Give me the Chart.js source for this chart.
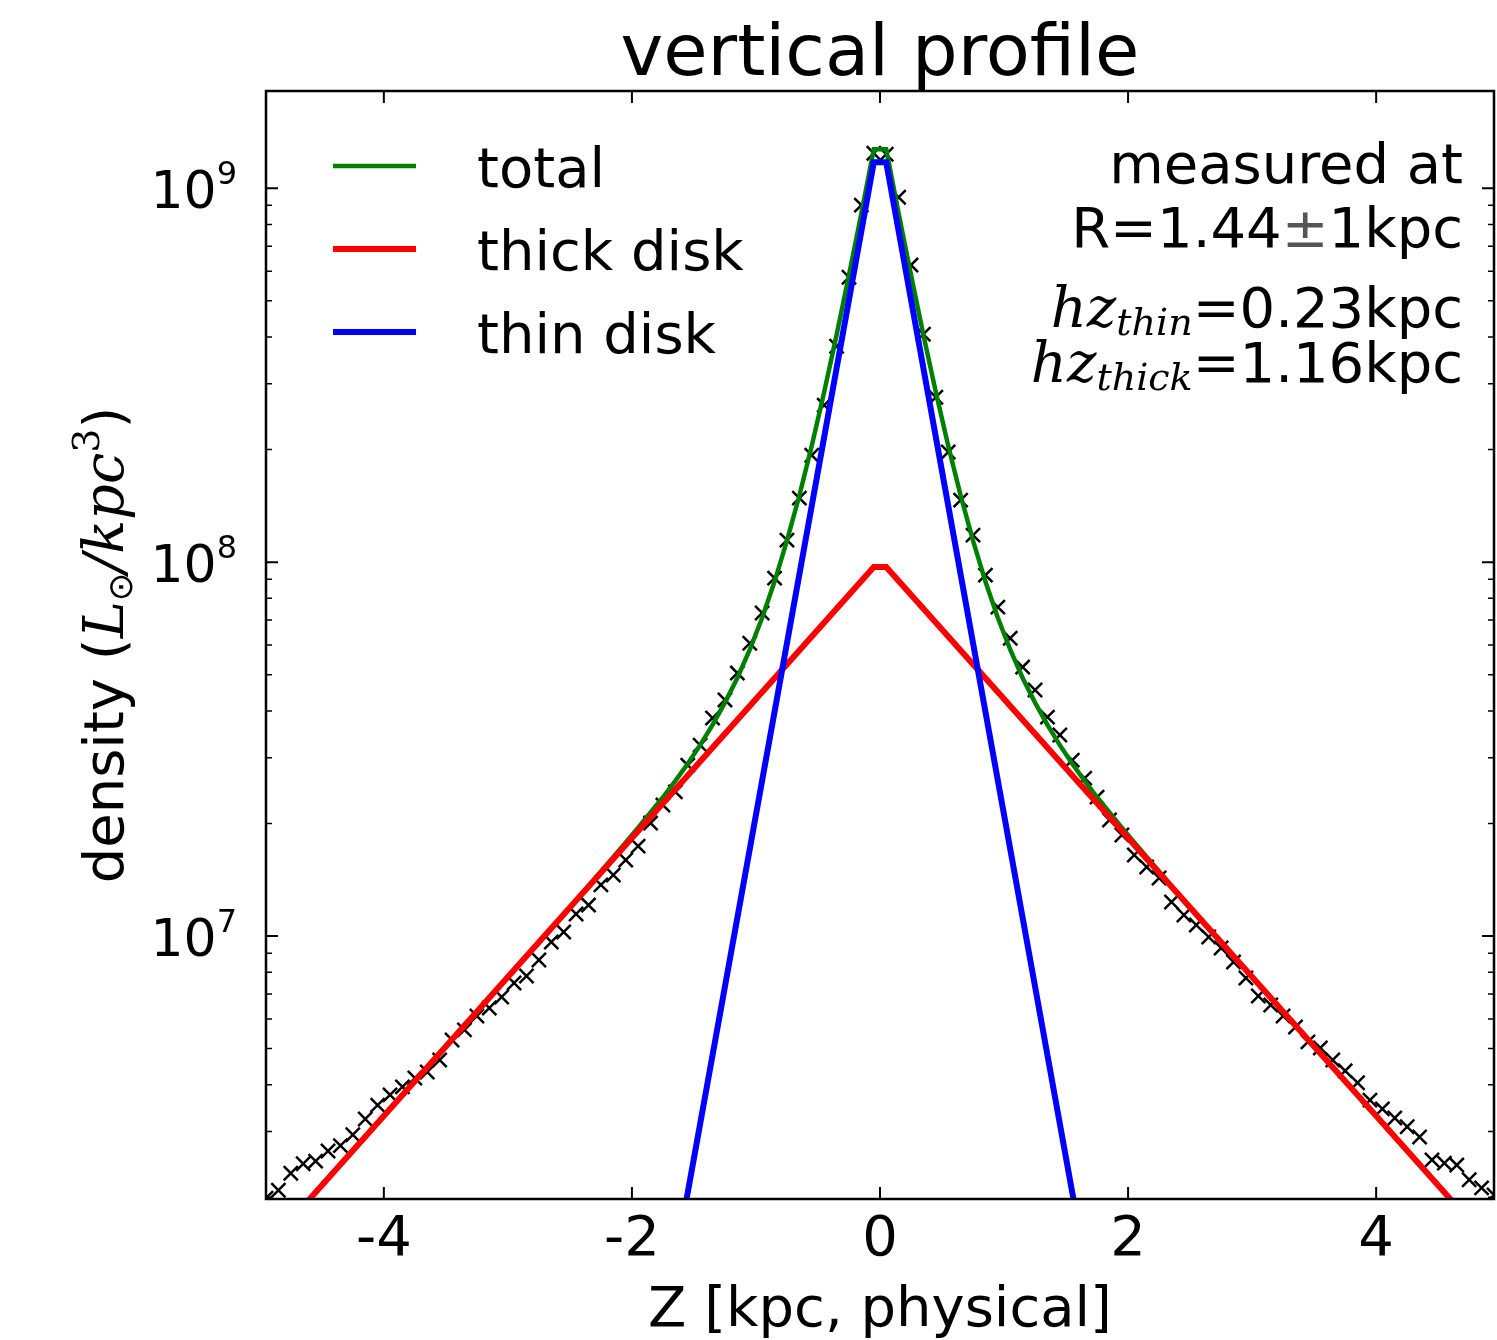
<!DOCTYPE html>
<html><head><meta charset="utf-8">
<script src="https://cdn.jsdelivr.net/npm/chart.js@4.4.1/dist/chart.umd.min.js"></script>
<style>html,body{margin:0;padding:0;background:#fff;overflow:hidden}canvas{display:block}</style>
</head><body>
<canvas id="c" width="1497" height="1340"></canvas>
<script>
// ---- data ----
const binZ = [-4.95,-4.85,-4.75,-4.65,-4.55,-4.45,-4.35,-4.25,-4.15,-4.05,
  -3.95,-3.85,-3.75,-3.65,-3.55,-3.45,-3.35,-3.25,-3.15,-3.05,
  -2.95,-2.85,-2.75,-2.65,-2.55,-2.45,-2.35,-2.25,-2.15,-2.05,
  -1.95,-1.85,-1.75,-1.65,-1.55,-1.45,-1.35,-1.25,-1.15,-1.05,
  -0.95,-0.85,-0.75,-0.65,-0.55,-0.45,-0.35,-0.25,-0.15,-0.05,
  0.05,0.15,0.25,0.35,0.45,0.55,0.65,0.75,0.85,0.95,
  1.05,1.15,1.25,1.35,1.45,1.55,1.65,1.75,1.85,1.95,
  2.05,2.15,2.25,2.35,2.45,2.55,2.65,2.75,2.85,2.95,
  3.05,3.15,3.25,3.35,3.45,3.55,3.65,3.75,3.85,3.95,
  4.05,4.15,4.25,4.35,4.45,4.55,4.65,4.75,4.85,4.95];
const measuredDensity = [1.99e6,2.09e6,2.32e6,2.46e6,2.50e6,2.66e6,2.75e6,2.94e6,3.24e6,3.53e6,
  3.76e6,3.95e6,4.17e6,4.33e6,4.66e6,5.27e6,5.61e6,6.11e6,6.42e6,6.87e6,
  7.49e6,7.82e6,8.63e6,9.64e6,1.025e7,1.145e7,1.21e7,1.37e7,1.456e7,1.597e7,
  1.74e7,2.005e7,2.24e7,2.43e7,2.865e7,3.24e7,3.83e7,4.28e7,5.05e7,6.07e7,
  7.31e7,9.06e7,1.145e8,1.483e8,1.932e8,2.63e8,3.78e8,5.78e8,9.01e8,1.24e9,
  1.233e9,9.46e8,6.23e8,4.07e8,2.76e8,1.97e8,1.465e8,1.181e8,9.23e7,7.58e7,
  6.26e7,5.24e7,4.55e7,3.85e7,3.45e7,2.955e7,2.645e7,2.353e7,2.043e7,1.863e7,
  1.647e7,1.53e7,1.43e7,1.233e7,1.138e7,1.07e7,9.94e6,9.29e6,8.52e6,7.72e6,
  6.91e6,6.54e6,6.11e6,5.71e6,5.21e6,5.02e6,4.66e6,4.36e6,4.05e6,3.64e6,
  3.45e6,3.26e6,3.09e6,2.90e6,2.52e6,2.47e6,2.44e6,2.23e6,2.12e6,2.03e6];

const totalZ = [-4.95,-3.95,-2.95,-2.45,-2.05,-1.95,-1.85,-1.75,-1.65,-1.55,-1.45,-1.35,-1.25,-1.15,-1.05,
  -0.95,-0.85,-0.75,-0.65,-0.55,-0.45,-0.35,-0.25,-0.15,-0.05,
  0.05,0.15,0.25,0.35,0.45,0.55,0.65,0.75,0.85,0.95,
  1.05,1.15,1.25,1.35,1.45,1.55,1.65,1.75,1.85,1.95,2.05,2.45,2.95,3.95,4.95];
const totalDensity = [1.465e6,3.445e6,8.11e6,1.244e7,1.78e7,1.95e7,2.14e7,2.35e7,2.60e7,2.89e7,3.24e7,3.67e7,4.21e7,4.90e7,5.83e7,
  7.10e7,8.87e7,1.141e8,1.507e8,2.048e8,2.85e8,4.05e8,5.86e8,8.58e8,1.271e9,
  1.271e9,8.58e8,5.86e8,4.05e8,2.85e8,2.048e8,1.507e8,1.141e8,8.87e7,7.10e7,
  5.83e7,4.90e7,4.21e7,3.67e7,3.24e7,2.89e7,2.60e7,2.35e7,2.14e7,1.95e7,1.78e7,1.244e7,8.11e6,3.445e6,1.465e6];

const thickZ = [-4.95,-0.05,0.05,4.95];
const thickDensity = [1.465e6,9.70e7,9.70e7,1.465e6];
const thinZ = [-1.65,-0.05,0.05,1.65];
const thinDensity = [1.35e6,1.174e9,1.174e9,1.35e6];

const xTickValues = [-4,-2,0,2,4];
const xTickLabels = ['-4','-2','0','2','4'];
const yMajorTicks = [1e7,1e8,1e9];
const yTickBases = ['10','10','10'];
const yTickExps = ['7','8','9'];

const SANS = '"DejaVu Sans"';
const SERIF = '"DejaVu Serif"';
const AREA = {left:266, right:1494, top:91, bottom:1199};
const PAD = {left:0, right:3, top:91, bottom:0};

function toXY(zs, vs){ return zs.map((z,i)=>({x:z, y:vs[i]})); }

function drawRich(ctx, segs, x, y, align){
  let total = 0;
  segs.forEach(s=>{ ctx.font = s.font; s.w = ctx.measureText(s.t).width + (s.kern||0); total += s.w; });
  let cx = align==='right' ? x-total : (align==='center' ? x-total/2 : x);
  segs.forEach(s=>{
    ctx.font = s.font; ctx.fillStyle = s.color || '#000';
    ctx.textAlign = 'left'; ctx.textBaseline = 'alphabetic';
    ctx.fillText(s.t, cx, y + (s.dy||0));
    cx += s.w;
  });
}

const framePlugin = {
  id:'frame',
  afterDraw(chart){
    const ctx = chart.ctx, a = chart.chartArea;
    const xs = chart.scales.x, ys = chart.scales.y;
    ctx.save();
    ctx.strokeStyle = '#000'; ctx.lineWidth = 2.5;
    ctx.strokeRect(a.left, a.top, a.right-a.left, a.bottom-a.top);
    ctx.lineWidth = 2;
    xTickValues.forEach(v=>{
      const px = xs.getPixelForValue(v);
      ctx.beginPath();
      ctx.moveTo(px, a.bottom); ctx.lineTo(px, a.bottom-12);
      ctx.moveTo(px, a.top); ctx.lineTo(px, a.top+12);
      ctx.stroke();
    });
    for (let e = 6; e <= 9; e++){
      for (let m = 1; m <= 9; m++){
        const v = m*Math.pow(10,e);
        if (v < ys.min || v > ys.max) continue;
        const py = ys.getPixelForValue(v);
        const len = m===1 ? 12 : 6;
        ctx.lineWidth = m===1 ? 2 : 1.5;
        ctx.beginPath();
        ctx.moveTo(a.left, py); ctx.lineTo(a.left+len, py);
        ctx.moveTo(a.right, py); ctx.lineTo(a.right-len, py);
        ctx.stroke();
      }
    }
    yMajorTicks.forEach((v,i)=>{
      const py = ys.getPixelForValue(v);
      ctx.font = '52px '+SANS; const wb = ctx.measureText(yTickBases[i]).width;
      ctx.font = '32px '+SANS; const we = ctx.measureText(yTickExps[i]).width;
      const x0 = 237 - wb - we;
      ctx.fillStyle = '#000'; ctx.textAlign='left'; ctx.textBaseline='alphabetic';
      ctx.font = '52px '+SANS; ctx.fillText(yTickBases[i], x0, py + 20);
      ctx.font = '32px '+SANS; ctx.fillText(yTickExps[i], x0+wb, py-4);
    });
    ctx.fillStyle = '#000'; ctx.textAlign = 'center'; ctx.textBaseline = 'alphabetic';
    ctx.font = '72px '+SANS;
    ctx.fillText('vertical profile', (a.left+a.right)/2, 75);
    ctx.font = '56px '+SANS;
    ctx.fillText('Z [kpc, physical]', (a.left+a.right)/2, 1326);
    ctx.save();
    ctx.translate(123, (a.top+a.bottom)/2);
    ctx.rotate(-Math.PI/2);
    drawRich(ctx, [
      {t:'density (', font:'56px '+SANS},
      {t:'L', font:'italic 56px '+SERIF},
      {t:'\u2299', font:'34px '+SANS, dy:9},
      {t:'/kpc', font:'italic 56px '+SERIF},
      {t:'3', font:'38px '+SERIF, dy:-24},
      {t:')', font:'56px '+SANS}
    ], 0, 0, 'center');
    ctx.restore();
    const legendOrder = [2,1,0];
    legendOrder.forEach((di,k)=>{
      const ds = chart.data.datasets[di];
      const ly = 166 + k*83;
      ctx.strokeStyle = ds.borderColor; ctx.lineWidth = ds.borderWidth;
      ctx.beginPath(); ctx.moveTo(333, ly); ctx.lineTo(416, ly); ctx.stroke();
      ctx.fillStyle = '#000'; ctx.textAlign = 'left'; ctx.font = '56px '+SANS;
      ctx.fillText(ds.label, 477, ly+21);
    });
    ctx.textAlign = 'right'; ctx.font = '56px '+SANS; ctx.fillStyle='#000';
    ctx.fillText('measured at', 1463, 183);
    drawRich(ctx, [
      {t:'R=1.44', font:'56px '+SANS},
      {t:'\u00b1', font:'56px '+SANS, color:'#555'},
      {t:'1kpc', font:'56px '+SANS}
    ], 1463, 247, 'right');
    drawRich(ctx, [
      {t:'hz', font:'italic 56px '+SERIF},
      {t:'thin', font:'italic 38px '+SERIF, dy:8},
      {t:'=0.23kpc', font:'56px '+SANS}
    ], 1463, 327, 'right');
    drawRich(ctx, [
      {t:'hz', font:'italic 56px '+SERIF},
      {t:'thick', font:'italic 38px '+SERIF, dy:8},
      {t:'=1.16kpc', font:'56px '+SANS}
    ], 1463, 382, 'right');
    ctx.restore();
  }
};

const chart = new Chart(document.getElementById('c').getContext('2d'), {
  type:'scatter',
  data:{ datasets:[
    {label:'thin disk', data:toXY(thinZ, thinDensity), showLine:true, borderColor:'#0000ff', borderWidth:6, pointRadius:0, order:0, clip:0},
    {label:'thick disk', data:toXY(thickZ, thickDensity), showLine:true, borderColor:'#ff0000', borderWidth:6, pointRadius:0, order:1, clip:0},
    {label:'total', data:toXY(totalZ, totalDensity), showLine:true, borderColor:'#008000', borderWidth:4.5, pointRadius:0, order:2, clip:0},
    {label:'measured', data:toXY(binZ, measuredDensity), showLine:false, pointStyle:'crossRot', pointRadius:10, pointBorderWidth:2.5, borderColor:'#000', backgroundColor:'#000', borderWidth:2.5, order:3, clip:0}
  ]},
  options:{
    responsive:false, animation:false, devicePixelRatio:1,
    layout:{padding:PAD, autoPadding:false},
    plugins:{legend:{display:false}, tooltip:{enabled:false}, title:{display:false}},
    scales:{
      x:{type:'linear', min:-4.95, max:4.95,
        afterBuildTicks:s=>{ s.ticks = xTickValues.map(v=>({value:v})); },
        afterFit:s=>{ s.height = 141; s.paddingLeft = 0; s.paddingRight = 0; },
        ticks:{font:{family:'DejaVu Sans', size:56}, color:'#000', padding:8, maxRotation:0, autoSkip:false,
          callback:(v)=>{ const i = xTickValues.indexOf(v); return i>=0 ? xTickLabels[i] : ''; }},
        grid:{display:false, drawTicks:false}, border:{display:false}},
      y:{type:'logarithmic', min:1.98e6, max:1.82e9,
        afterFit:s=>{ s.width = 266; s.paddingTop = 0; s.paddingBottom = 0; },
        ticks:{display:false}, grid:{display:false, drawTicks:false}, border:{display:false}}
    }
  },
  plugins:[framePlugin]
});
for (let k = 0; k < 4; k++){
  const ca = chart.chartArea;
  const dR = ca.right - AREA.right, dT = ca.top - AREA.top, dB = ca.bottom - AREA.bottom;
  if (Math.abs(dR) < 0.5 && Math.abs(dT) < 0.5 && Math.abs(dB) < 0.5) break;
  PAD.right += dR; PAD.top -= dT; PAD.bottom += dB;
  chart.config.options.layout.padding = Object.assign({}, PAD);
  chart.update();
}
</script>
</body></html>
